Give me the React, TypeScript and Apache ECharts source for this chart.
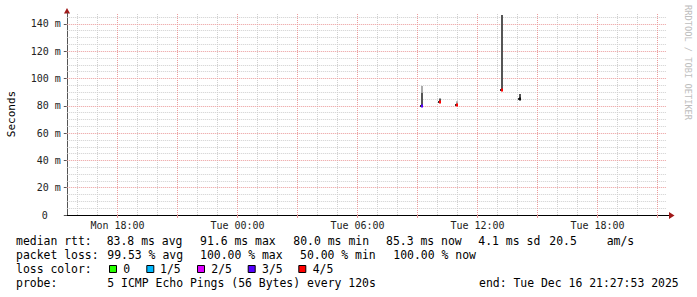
import React, { useEffect, useRef } from "react";
import * as echarts from "echarts";

// ---- axis ticks (hours counted from Mon 00:00) ----
const xLabelHours = [18, 24, 30, 36, 42];
const xLabelTexts = ["Mon 18:00", "Tue 00:00", "Tue 06:00", "Tue 12:00", "Tue 18:00"];
const xMajorGridHours = [18, 21, 24, 27, 30, 33, 36, 39, 42, 45];
const xMinorGridHours = [16, 17, 19, 20, 22, 23, 25, 26, 28, 29, 31, 32, 34, 35, 37, 38, 40, 41, 43, 44];
const yTickValues = [0, 20, 40, 60, 80, 100, 120, 140];
const yMajorGrid = [20, 40, 60, 80, 100, 120, 140];
const yMinorGrid = [5, 10, 15, 25, 30, 35, 45, 50, 55, 65, 70, 75, 85, 90, 95, 105, 110, 115, 125, 130, 135, 145];

// ---- samples (ms) ----
const sampleHours = [33.235, 34.11, 35.0, 37.22, 38.14];
const smokeLow = [80.5, 82.6, 80.6, 91.6, 85.3];
const smokeDarkTop = [89.6, 85.3, 80.6, 146.5, 88.6];
const smokeTop = [94.5, 85.3, 83.3, 146.5, 88.6];
const medianRtt = [80.0, 82.6, 80.3, 91.6, 85.3];
const lossLevel = [3, 4, 4, 4, -1];

const lossColors = ["#26ff00", "#00b8ff", "#dd00ff", "#5500ff", "#ff0000"];
const lossLabels = ["0", "1/5", "2/5", "3/5", "4/5"];

// ---- legend texts ----
const rttRow = ["median rtt:", "83.8 ms avg", "91.6 ms max", "80.0 ms min", "85.3 ms now", "4.1 ms sd", "20.5", "am/s"];
const lossRow = ["packet loss:", "99.53 % avg", "100.00 % max", "50.00 % min", "100.00 % now"];
const colorRowTitle = "loss color:";
const probeRow = ["probe:", "5 ICMP Echo Pings (56 Bytes) every 120s", "end: Tue Dec 16 21:27:53 2025"];
const yAxisTitle = "Seconds";
const watermark = "RRDTOOL / TOBI OETIKER";

// ---- layout ----
const X_MIN = 15 + 27 / 60 + 53 / 3600;
const X_MAX = X_MIN + 30;
const Y_MAX = 148;
const MONO = '"DejaVu Sans Mono", monospace';
const LEG_FONT = `11.45px ${MONO}`;
const rttX = [16, 106.7, 200, 293.3, 386, 478.3, 549.3, 606.7];
const lossX = [16, 107.3, 200, 300, 393.3];
const probeX = [16, 107.3, 479];
const boxX = [109, 146.3, 197, 247.7, 298.3];
const boxLabelX = [123.3, 160, 211.3, 262, 312.7];
const rowY = [241, 255, 269, 283];

function txt(text: string, x: number, y: number, extra: any = {}) {
  return {
    type: "text",
    x,
    y,
    silent: true,
    style: {
      text,
      font: LEG_FONT,
      fill: "#000",
      align: "left",
      verticalAlign: "middle",
      textAlign: "left",
      textVerticalAlign: "middle",
      ...extra,
    },
  };
}

function gridSeries(name: string, axis: "xAxis" | "yAxis", values: number[], color: string) {
  return {
    name,
    type: "line",
    data: [],
    silent: true,
    z: 1,
    markLine: {
      silent: true,
      symbol: ["none", "none"],
      label: { show: false },
      animation: false,
      lineStyle: { color, width: 1, type: [1, 1] },
      emphasis: { disabled: true },
      data: values.map((v) => ({ [axis]: v })),
    },
  };
}

export default function App() {
  const ref = useRef<HTMLDivElement>(null);
  useEffect(() => {
    const chart = echarts.init(ref.current!, null, { renderer: "svg" });
    const graphics: any[] = [];
    rttRow.forEach((t, i) => graphics.push(txt(t, rttX[i], rowY[0])));
    lossRow.forEach((t, i) => graphics.push(txt(t, lossX[i], rowY[1])));
    graphics.push(txt(colorRowTitle, 16, rowY[2]));
    lossColors.forEach((c, i) => {
      graphics.push({
        type: "rect",
        silent: true,
        shape: { x: boxX[i] + 0.5, y: rowY[2] - 3.5, width: 7, height: 7 },
        style: { fill: c, stroke: "#000", lineWidth: 1 },
      });
      graphics.push(txt(lossLabels[i], boxLabelX[i], rowY[2]));
    });
    probeRow.forEach((t, i) => graphics.push(txt(t, probeX[i], rowY[3])));
    graphics.push({
      type: "text",
      x: 11,
      y: 114,
      rotation: Math.PI / 2,
      silent: true,
      style: {
        text: yAxisTitle,
        font: `11px ${MONO}`,
        fill: "#000",
        align: "center",
        verticalAlign: "middle",
        textAlign: "center",
        textVerticalAlign: "middle",
      },
    });
    graphics.push({
      type: "text",
      x: 688,
      y: 5,
      rotation: -Math.PI / 2,
      silent: true,
      style: {
        text: watermark,
        font: `8.7px ${MONO}`,
        fill: "#bdbdbd",
        align: "left",
        verticalAlign: "middle",
        textAlign: "left",
        textVerticalAlign: "middle",
      },
    });
    // axis arrows
    graphics.push({
      type: "polygon",
      silent: true,
      shape: { points: [[64, 13.5], [70, 13.5], [67, 8]] },
      style: { fill: "#a01818" },
    });
    graphics.push({
      type: "line",
      silent: true,
      shape: { x1: 666, y1: 215.5, x2: 669, y2: 215.5 },
      style: { stroke: "#000", lineWidth: 1 },
    });
    graphics.push({
      type: "polygon",
      silent: true,
      shape: { points: [[669, 212], [669, 219], [674.5, 215.5]] },
      style: { fill: "#a01818" },
    });

    const option: any = {
      animation: false,
      backgroundColor: "#ffffff",
      textStyle: { fontFamily: MONO },
      grid: { left: 66.794, top: 13, width: 600, height: 202, containLabel: false },
      xAxis: {
        type: "value",
        min: X_MIN,
        max: X_MAX,
        splitLine: { show: false },
        axisLine: { show: true, lineStyle: { color: "#000", width: 1 } },
        axisTick: {
          show: true,
          customValues: xMajorGridHours,
          length: 3,
          lineStyle: { color: "#e99a9a" },
        },
        axisLabel: {
          customValues: xLabelHours,
          margin: 5,
          fontFamily: MONO,
          fontSize: 10,
          color: "#222",
          formatter: (v: number) => {
            const i = xLabelHours.indexOf(Math.round(v));
            return i >= 0 ? xLabelTexts[i] : "";
          },
        },
      },
      yAxis: {
        type: "value",
        min: 0,
        max: Y_MAX,
        splitLine: { show: false },
        axisLine: { show: true, lineStyle: { color: "#555", width: 1 } },
        axisTick: { show: true, customValues: yTickValues, length: 3, lineStyle: { color: "#555" } },
        axisLabel: {
          customValues: yTickValues,
          margin: 6,
          fontFamily: MONO,
          fontSize: 10,
          color: "#222",
          formatter: (v: number) => (v === 0 ? "{z|0}" : `${v} m`),
          rich: {
            z: { fontFamily: MONO, fontSize: 10, color: "#222", padding: [0, 13, 0, 0] },
          },
        },
      },
      graphic: graphics,
      series: [
        gridSeries("vminor", "xAxis", xMinorGridHours, "#cfcfcf"),
        gridSeries("hminor", "yAxis", yMinorGrid, "#cfcfcf"),
        gridSeries("vmajor", "xAxis", xMajorGridHours, "#eb9c9c"),
        gridSeries("hmajor", "yAxis", yMajorGrid, "#eb9c9c"),
        {
          type: "custom",
          coordinateSystem: "cartesian2d",
          silent: true,
          z: 10,
          encode: { x: 0, y: [1, 3] },
          data: sampleHours.map((h, i) => [h, smokeLow[i], smokeDarkTop[i], smokeTop[i], medianRtt[i], lossLevel[i]]),
          renderItem: (_params: any, api: any) => {
            const t = api.value(0);
            const p = api.coord([t, api.value(1)]);
            const x = Math.round(p[0]);
            const yLow = p[1];
            const yDark = api.coord([t, api.value(2)])[1];
            const yTop = api.coord([t, api.value(3)])[1];
            const yMed = Math.round(api.coord([t, api.value(4)])[1]);
            const lvl = api.value(5);
            const medColor = lvl >= 0 ? lossColors[lvl] : "#111";
            const children: any[] = [];
            if (yDark - yTop > 0.1)
              children.push({ type: "rect", shape: { x: x - 1, y: yTop, width: 2, height: yDark - yTop }, style: { fill: "#ababab" } });
            if (yLow - yDark > 0.1)
              children.push({ type: "rect", shape: { x: x - 1, y: yDark, width: 2, height: yLow - yDark }, style: { fill: "#555555" } });
            children.push({ type: "rect", shape: { x: x - 2, y: yMed - 1, width: 1, height: 2 }, style: { fill: "#333" } });
            children.push({ type: "rect", shape: { x: x - 1, y: yMed - 1.5, width: 2, height: 3 }, style: { fill: medColor } });
            return { type: "group", children };
          },
        },
      ],
    };
    chart.setOption(option);
    return () => chart.dispose();
  }, []);
  return (
    <div
      ref={ref}
      style={{ position: "absolute", left: 0, top: 0, width: 697, height: 297, background: "#fff" }}
    />
  );
}
